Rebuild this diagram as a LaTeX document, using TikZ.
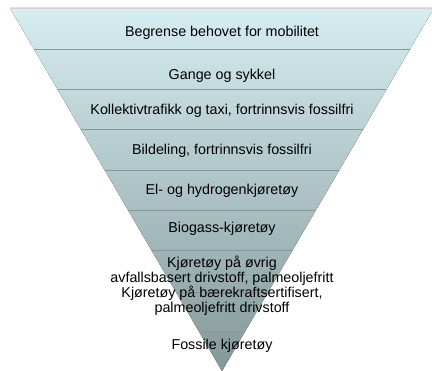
\documentclass[tikz,border=0pt]{standalone}
\usepackage{fontspec}
\setmainfont{Liberation Sans}
\usetikzlibrary{calc}
\definecolor{funneltop}{RGB}{214,237,241}
\definecolor{funnelbot}{RGB}{132,152,152}
\definecolor{bandline}{RGB}{136,150,150}

\begin{document}
\begin{tikzpicture}[x=1pt, y=-1pt,
	bandtext/.style={font=\fontsize{14.3}{15}\selectfont, align=center, anchor=base, inner sep=0pt},
	divider/.style={draw=bandline, line width=0.9pt}]
	\useasboundingbox (0,0) rectangle (432,371);
	% funnel
	\fill[top color=funneltop, bottom color=funnelbot] (10,8) coordinate (TL) -- (434,8) coordinate (TR) -- (222,371) coordinate (apex) -- cycle;
	\draw[gray!35, line width=0.8pt] (TL) -- (TR);
	\foreach \y in {49,89,129,170,210,250,292,332}
		\draw[divider] ($(TL)!{(\y-8)/363}!(apex)$) -- ($(TR)!{(\y-8)/363}!(apex)$);
	% levels (multi-line nodes: base is the last line)
	\node[bandtext] (mobilitet) at (222,37) {Begrense behovet for mobilitet};
	\node[bandtext] (gange) at (222,80) {Gange og sykkel};
	\node[bandtext] (kollektiv) at (222,115) {Kollektivtrafikk og taxi, fortrinnsvis fossilfri};
	\node[bandtext] (bildeling) at (222,155) {Bildeling, fortrinnsvis fossilfri};
	\node[bandtext] (elhydrogen) at (222,195) {El- og hydrogenkjøretøy};
	\node[bandtext] (biogass) at (222,233) {Biogass-kjøretøy};
	\node[bandtext] (avfall) at (222,283) {Kjøretøy på øvrig\\avfallsbasert drivstoff, palmeoljefritt};
	\node[bandtext] (baerekraft) at (222,313) {Kjøretøy på bærekraftsertifisert,\\palmeoljefritt drivstoff};
	\node[bandtext] (fossil) at (222,350) {Fossile kjøretøy};
\end{tikzpicture}
\end{document}
